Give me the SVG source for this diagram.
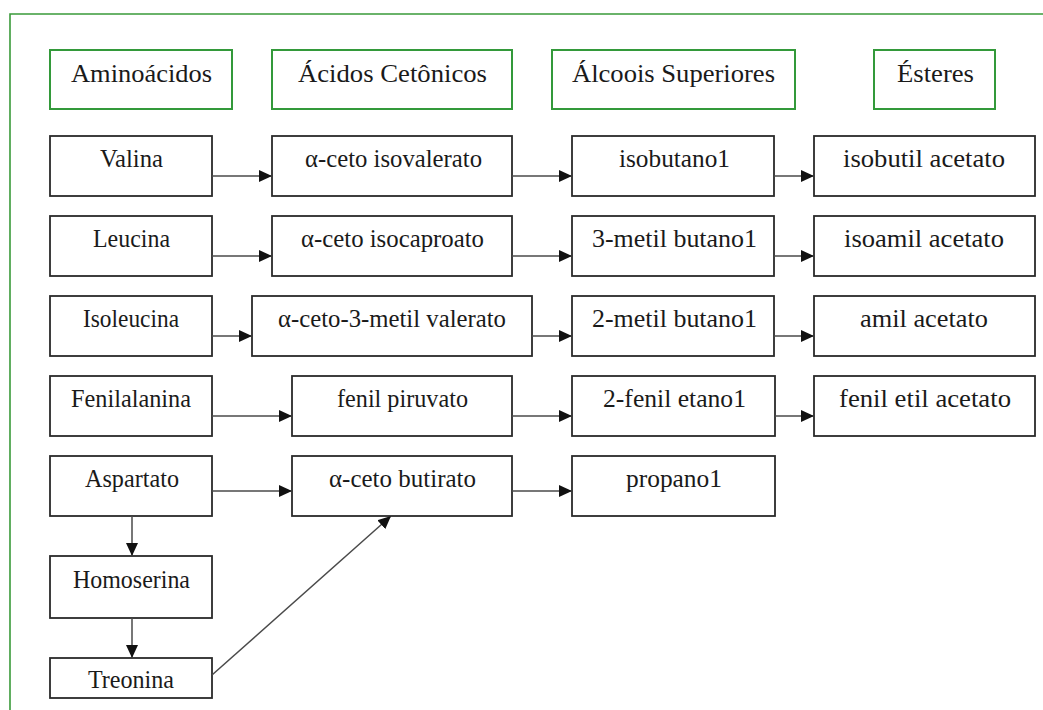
<svg xmlns="http://www.w3.org/2000/svg" width="1043" height="710" viewBox="0 0 1043 710">
  <defs>
    <marker id="arrow" markerUnits="userSpaceOnUse" markerWidth="13" markerHeight="12" refX="13" refY="6" orient="auto">
      <path d="M0,0 L13,6 L0,12 z" fill="#111"/>
    </marker>
    <style>
      .frame { fill: none; stroke: #3a9a3a; stroke-width: 1.6; }
      .head rect { fill: #fff; stroke: #33993a; stroke-width: 2; }
      .node rect { fill: #fff; stroke: #2a2a2a; stroke-width: 1.8; }
      .lbl { font-size: 25px; fill: #1a1a1a; text-anchor: middle; }
      .conn line { stroke: #4a4a4a; stroke-width: 1.5; marker-end: url(#arrow); }
    </style>
  </defs>

  <rect width="1043" height="710" fill="#fff"/>

  <!-- outer frame (only top and left edges fall inside the page) -->
  <path class="frame" d="M10,710 L10,14 L1043,14"/>

  <g id="diagram" font-family="'Liberation Serif', Tinos, 'DejaVu Serif', serif">
  <!-- column headers -->
  <g id="h-aminoacidos" class="head"><rect x="50" y="50" width="182" height="59"/><text class="lbl" x="141.5" y="82" textLength="141" lengthAdjust="spacingAndGlyphs">Aminoácidos</text></g>
  <g id="h-cetonicos" class="head"><rect x="272" y="50" width="240" height="59"/><text class="lbl" x="392.5" y="82" textLength="189" lengthAdjust="spacingAndGlyphs">Ácidos Cetônicos</text></g>
  <g id="h-alcoois" class="head"><rect x="552" y="50" width="243" height="59"/><text class="lbl" x="673.5" y="82" textLength="203" lengthAdjust="spacingAndGlyphs">Álcoois Superiores</text></g>
  <g id="h-esteres" class="head"><rect x="874" y="50" width="121" height="59"/><text class="lbl" x="935.5" y="82" textLength="77" lengthAdjust="spacingAndGlyphs">Ésteres</text></g>

  <!-- row 1 -->
  <g id="valina" class="node"><rect x="50" y="136" width="162" height="60"/><text class="lbl" x="131.5" y="167" textLength="63" lengthAdjust="spacingAndGlyphs">Valina</text></g>
  <g id="ceto-isovalerato" class="node"><rect x="272" y="136" width="240" height="60"/><text class="lbl" x="393.5" y="167" textLength="177" lengthAdjust="spacingAndGlyphs">α-ceto isovalerato</text></g>
  <g id="isobutanol" class="node"><rect x="572" y="136" width="202" height="60"/><text class="lbl" x="674.5" y="167" textLength="111" lengthAdjust="spacingAndGlyphs">isobutano1</text></g>
  <g id="isobutil-acetato" class="node"><rect x="814" y="136" width="221" height="60"/><text class="lbl" x="924" y="167" textLength="162" lengthAdjust="spacingAndGlyphs">isobutil acetato</text></g>

  <!-- row 2 -->
  <g id="leucina" class="node"><rect x="50" y="216" width="162" height="60"/><text class="lbl" x="131.5" y="247" textLength="77" lengthAdjust="spacingAndGlyphs">Leucina</text></g>
  <g id="ceto-isocaproato" class="node"><rect x="272" y="216" width="240" height="60"/><text class="lbl" x="392.5" y="247" textLength="183" lengthAdjust="spacingAndGlyphs">α-ceto isocaproato</text></g>
  <g id="metil3-butanol" class="node"><rect x="572" y="216" width="202" height="60"/><text class="lbl" x="674.5" y="247" textLength="165" lengthAdjust="spacingAndGlyphs">3-metil butano1</text></g>
  <g id="isoamil-acetato" class="node"><rect x="814" y="216" width="221" height="60"/><text class="lbl" x="924" y="247" textLength="160" lengthAdjust="spacingAndGlyphs">isoamil acetato</text></g>

  <!-- row 3 -->
  <g id="isoleucina" class="node"><rect x="50" y="296" width="162" height="60"/><text class="lbl" x="131" y="327" textLength="96" lengthAdjust="spacingAndGlyphs">Isoleucina</text></g>
  <g id="ceto-metil-valerato" class="node"><rect x="252" y="296" width="280" height="60"/><text class="lbl" x="392" y="327" textLength="228" lengthAdjust="spacingAndGlyphs">α-ceto-3-metil valerato</text></g>
  <g id="metil2-butanol" class="node"><rect x="572" y="296" width="202" height="60"/><text class="lbl" x="674.5" y="327" textLength="165" lengthAdjust="spacingAndGlyphs">2-metil butano1</text></g>
  <g id="amil-acetato" class="node"><rect x="814" y="296" width="221" height="60"/><text class="lbl" x="924" y="327" textLength="128" lengthAdjust="spacingAndGlyphs">amil acetato</text></g>

  <!-- row 4 -->
  <g id="fenilalanina" class="node"><rect x="50" y="376" width="162" height="60"/><text class="lbl" x="131" y="407" textLength="120" lengthAdjust="spacingAndGlyphs">Fenilalanina</text></g>
  <g id="fenil-piruvato" class="node"><rect x="292" y="376" width="220" height="60"/><text class="lbl" x="402.5" y="407" textLength="131" lengthAdjust="spacingAndGlyphs">fenil piruvato</text></g>
  <g id="fenil-etanol" class="node"><rect x="572" y="376" width="203" height="60"/><text class="lbl" x="674.5" y="407" textLength="143" lengthAdjust="spacingAndGlyphs">2-fenil etano1</text></g>
  <g id="fenil-etil-acetato" class="node"><rect x="814" y="376" width="221" height="60"/><text class="lbl" x="925" y="407" textLength="172" lengthAdjust="spacingAndGlyphs">fenil etil acetato</text></g>

  <!-- row 5 and threonine branch -->
  <g id="aspartato" class="node"><rect x="50" y="456" width="162" height="60"/><text class="lbl" x="132" y="487" textLength="94" lengthAdjust="spacingAndGlyphs">Aspartato</text></g>
  <g id="ceto-butirato" class="node"><rect x="292" y="456" width="220" height="60"/><text class="lbl" x="402.5" y="487" textLength="147" lengthAdjust="spacingAndGlyphs">α-ceto butirato</text></g>
  <g id="propanol" class="node"><rect x="572" y="456" width="203" height="60"/><text class="lbl" x="674" y="487" textLength="96" lengthAdjust="spacingAndGlyphs">propano1</text></g>
  <g id="homoserina" class="node"><rect x="50" y="556" width="162" height="62"/><text class="lbl" x="131.5" y="588" textLength="117" lengthAdjust="spacingAndGlyphs">Homoserina</text></g>
  <g id="treonina" class="node"><rect x="50" y="658" width="162" height="40"/><text class="lbl" x="131" y="688" textLength="86" lengthAdjust="spacingAndGlyphs">Treonina</text></g>
  </g>

  <!-- connectors -->
  <g id="connectors" class="conn">
    <line x1="212" y1="176" x2="272" y2="176"/>
    <line x1="512" y1="176" x2="572" y2="176"/>
    <line x1="774" y1="176" x2="814" y2="176"/>

    <line x1="212" y1="256" x2="272" y2="256"/>
    <line x1="512" y1="256" x2="572" y2="256"/>
    <line x1="774" y1="256" x2="814" y2="256"/>

    <line x1="212" y1="336" x2="252" y2="336"/>
    <line x1="532" y1="336" x2="572" y2="336"/>
    <line x1="774" y1="336" x2="814" y2="336"/>

    <line x1="212" y1="416" x2="292" y2="416"/>
    <line x1="512" y1="416" x2="572" y2="416"/>
    <line x1="775" y1="416" x2="814" y2="416"/>

    <line x1="212" y1="491" x2="292" y2="491"/>
    <line x1="512" y1="491" x2="572" y2="491"/>

    <line x1="132" y1="516" x2="132" y2="556"/>
    <line x1="132" y1="618" x2="132" y2="658"/>
    <line x1="212" y1="675" x2="391" y2="516"/>
  </g>
</svg>
